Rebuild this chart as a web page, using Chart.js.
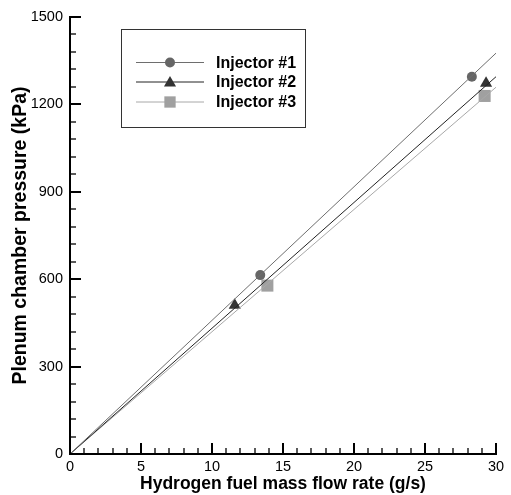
<!DOCTYPE html>
<html>
<head>
<meta charset="utf-8">
<script src="https://cdn.jsdelivr.net/npm/chart.js@4/dist/chart.umd.min.js"></script>
<style>
  html, body { margin: 0; padding: 0; background: #fff; }
  #wrap { width: 511px; height: 495px; position: relative; }
</style>
</head>
<body>
<div id="wrap"><canvas id="pressureChart" width="511" height="495"></canvas></div>
<script>
// fitted lines (through origin)
const lineX = [0, 30];
const inj1Line = [0, 1376];
const inj2Line = [0, 1295];
const inj3Line = [0, 1259];

// measured points
const inj1X = [13.4, 28.3];
const inj1Y = [614, 1295];
const inj2X = [11.6, 29.3];
const inj2Y = [511, 1273];
const inj3X = [13.9, 29.2];
const inj3Y = [578, 1229];

const seriesNames = ['Injector #1', 'Injector #2', 'Injector #3'];
const lineColors = ['#6e6e6e', '#222222', '#a8a8a8'];
const markerColors = ['#666666', '#333333', '#a0a0a0'];
const markerStyles = ['circle', 'triangle', 'rect'];
const markerRadius = [5, 7, 8.5];

const xTicks = [0, 5, 10, 15, 20, 25, 30];
const yTicks = [0, 300, 600, 900, 1200, 1500];

function pts(xs, ys) {
    return xs.map((x, i) => ({ x: x, y: ys[i] }));
}

const datasets = [];
const lines = [inj1Line, inj2Line, inj3Line];
const markX = [inj1X, inj2X, inj3X];
const markY = [inj1Y, inj2Y, inj3Y];

lines.forEach((ln, i) => {
    datasets.push({
        type: 'line',
        label: seriesNames[i] + ' fit',
        data: pts(lineX, ln),
        borderColor: lineColors[i],
        borderWidth: 1,
        pointRadius: 0,
        fill: false,
        tension: 0
    });
});
markX.forEach((xs, i) => {
    datasets.push({
        type: 'scatter',
        label: seriesNames[i],
        data: pts(xs, markY[i]),
        pointStyle: markerStyles[i],
        pointRadius: markerRadius[i],
        pointBackgroundColor: markerColors[i],
        pointBorderColor: markerColors[i],
        pointBorderWidth: 0
    });
});

// inward ticks on both axes (major + minor)
const inwardTicks = {
    id: 'inwardTicks',
    afterDatasetsDraw(chart) {
        const ctx = chart.ctx;
        const xs = chart.scales.x, ys = chart.scales.y;
        const area = chart.chartArea;
        ctx.save();
        ctx.strokeStyle = '#000';
        for (let v = 0; v <= 30; v += 1) {
            const major = v % 5 === 0;
            const px = Math.round(xs.getPixelForValue(v));
            ctx.lineWidth = major ? 2 : 1.3;
            ctx.beginPath();
            ctx.moveTo(px, area.bottom);
            ctx.lineTo(px, area.bottom - (major ? 11 : 6));
            ctx.stroke();
        }
        for (let v = 0; v <= 1500; v += 60) {
            const major = v % 300 === 0;
            const py = Math.round(ys.getPixelForValue(v));
            ctx.lineWidth = major ? 2 : 1.3;
            ctx.beginPath();
            ctx.moveTo(area.left, py);
            ctx.lineTo(area.left + (major ? 11 : 6), py);
            ctx.stroke();
        }
        ctx.restore();
    }
};

// boxed legend inside the plot
const boxLegend = {
    id: 'boxLegend',
    afterDraw(chart) {
        const ctx = chart.ctx;
        ctx.save();
        ctx.fillStyle = '#fff';
        ctx.fillRect(121, 29, 184, 98);
        ctx.strokeStyle = '#333';
        ctx.lineWidth = 1;
        ctx.strokeRect(121.5, 29.5, 184, 98);
        const rows = [62.5, 82, 102];
        rows.forEach((y, i) => {
            ctx.strokeStyle = lineColors[i];
            ctx.lineWidth = 1;
            ctx.beginPath();
            ctx.moveTo(136, y);
            ctx.lineTo(204, y);
            ctx.stroke();
            ctx.fillStyle = markerColors[i];
            Chart.helpers.drawPoint(ctx, {
                pointStyle: markerStyles[i],
                radius: i === 0 ? 5 : (i === 1 ? 7 : 8),
                rotation: 0,
                borderWidth: 0
            }, 170, y + (i === 1 ? 1 : 0));
            ctx.fillStyle = '#000';
            ctx.font = 'bold 16px "Liberation Sans", Arial, sans-serif';
            ctx.textBaseline = 'middle';
            ctx.fillText(seriesNames[i], 216, y + 1);
        });
        ctx.restore();
    }
};

const tickFont = { family: '"Liberation Sans", Arial, sans-serif', size: 14.5 };

new Chart(document.getElementById('pressureChart'), {
    data: { datasets: datasets },
    options: {
        responsive: false,
        animation: false,
        layout: { padding: { top: 17, right: 15, left: 0, bottom: 0 } },
        plugins: {
            legend: { display: false },
            tooltip: { enabled: false }
        },
        scales: {
            x: {
                type: 'linear',
                min: 0,
                max: 30,
                afterBuildTicks: (s) => { s.ticks = xTicks.map(v => ({ value: v })); },
                afterFit: (s) => { s.height = 41; },
                grid: { display: false, drawTicks: false },
                border: { display: true, color: '#000', width: 2 },
                ticks: {
                    color: '#000', font: tickFont, padding: 4, maxRotation: 0,
                    callback: (v) => String(v)
                },
                title: {
                    display: true,
                    text: 'Hydrogen fuel mass flow rate (g/s)',
                    color: '#000',
                    font: { family: '"Liberation Sans", Arial, sans-serif', size: 17.5, weight: 'bold' },
                    padding: { top: 0, bottom: 0 }
                }
            },
            y: {
                type: 'linear',
                min: 0,
                max: 1500,
                afterBuildTicks: (s) => { s.ticks = yTicks.map(v => ({ value: v })); },
                afterFit: (s) => { s.width = 70; },
                grid: { display: false, drawTicks: false },
                border: { display: true, color: '#000', width: 2 },
                ticks: {
                    color: '#000', font: tickFont, padding: 7,
                    callback: (v) => String(v)
                },
                title: {
                    display: true,
                    text: 'Plenum chamber pressure (kPa)',
                    color: '#000',
                    font: { family: '"Liberation Sans", Arial, sans-serif', size: 19.5, weight: 'bold' },
                    padding: { top: 9, bottom: 0 }
                }
            }
        }
    },
    plugins: [inwardTicks, boxLegend]
});
</script>
</body>
</html>
